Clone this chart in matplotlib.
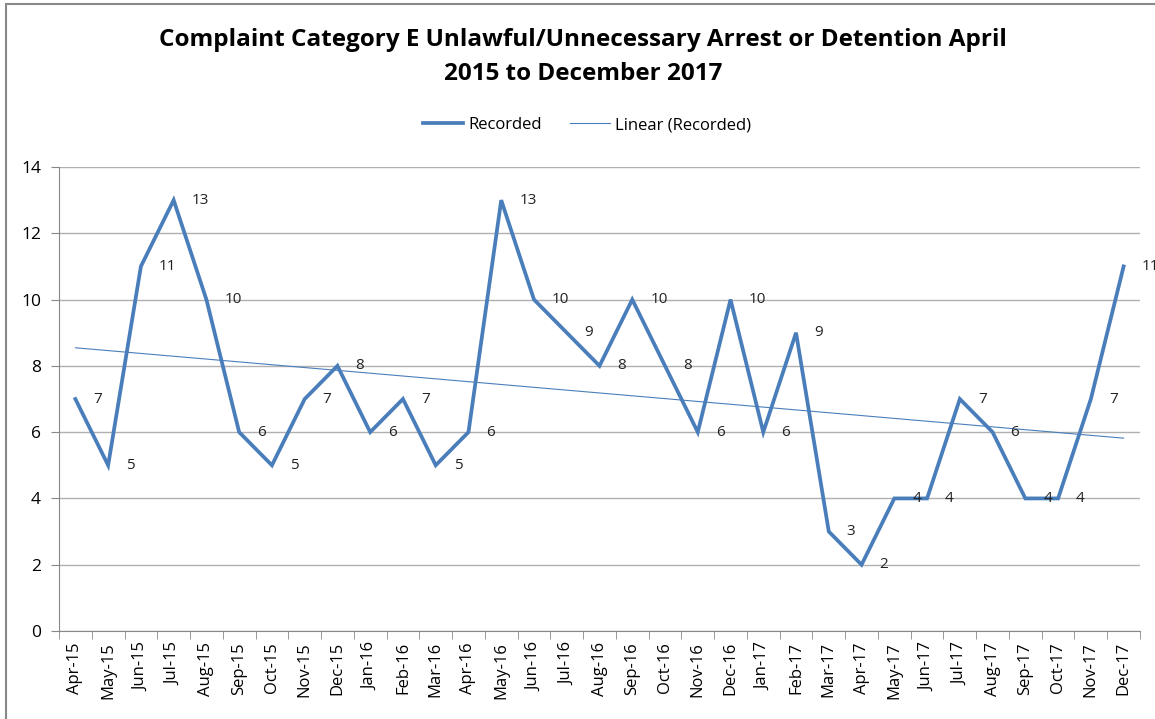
import matplotlib
matplotlib.use("Agg")
import matplotlib.pyplot as plt
import numpy as np
from matplotlib.patches import Rectangle

months = ["Apr-15","May-15","Jun-15","Jul-15","Aug-15","Sep-15","Oct-15","Nov-15","Dec-15",
          "Jan-16","Feb-16","Mar-16","Apr-16","May-16","Jun-16","Jul-16","Aug-16","Sep-16",
          "Oct-16","Nov-16","Dec-16","Jan-17","Feb-17","Mar-17","Apr-17","May-17","Jun-17",
          "Jul-17","Aug-17","Sep-17","Oct-17","Nov-17","Dec-17"]
recorded = [7,5,11,13,10,6,5,7,8,6,7,5,6,13,10,9,8,10,8,6,10,6,9,3,2,4,4,7,6,4,4,7,11]

plt.rcParams['font.family'] = ['Open Sans', 'DejaVu Sans']

fig = plt.figure(figsize=(11.55, 7.19), dpi=100)
ax = fig.add_axes([59/1155, 1-631/719, (1140-59)/1155, (631-167)/719])

x = np.arange(len(months))
line_color = "#4A7EBB"
ax.plot(x, recorded, color=line_color, lw=2.7, label="Recorded", solid_joinstyle='miter', zorder=3)
coef = np.polyfit(x, recorded, 1)
ax.plot(x, np.polyval(coef, x), color=line_color, lw=0.8, label="Linear (Recorded)", zorder=3)

for xi, v in zip(x, recorded):
    ax.annotate(str(v), (xi, v), xytext=(18, 0), textcoords='offset pixels',
                ha='left', va='center', fontsize=11, color='#222222')

ax.set_xlim(-0.5, len(months) - 0.5)
ax.set_ylim(0, 14)
ax.set_yticks(range(0, 15, 2))
ax.yaxis.grid(True, color='#B0B0B0', lw=1)
ax.set_axisbelow(True)
ax.set_xticks(x)
ax.set_xticklabels(months, rotation=90, fontsize=12)
ax.set_xticks(np.arange(-0.5, len(months), 1), minor=True)
ax.tick_params(axis='x', which='major', length=0, pad=8)
ax.tick_params(axis='x', which='minor', length=6, color='#888888')
ax.tick_params(axis='y', length=6, color='#888888', labelsize=12.5, pad=7)
for s in ['top', 'right']:
    ax.spines[s].set_visible(False)
for s in ['left', 'bottom']:
    ax.spines[s].set_color('#888888')

fig.text(583/1155, 1-57/719, "Complaint Category E Unlawful/Unnecessary Arrest or Detention April\n2015 to December 2017",
         ha='center', va='center', fontsize=17.5, fontweight='bold', linespacing=1.5)
fig.legend(loc='center', bbox_to_anchor=(587/1155, 1-125/719), ncol=2, frameon=False,
           fontsize=12, handlelength=2.4, columnspacing=1.7, handletextpad=0.3)

fig.patches.append(Rectangle((6/1155, -0.1), 1.2, 1.1 - 4/719, transform=fig.transFigure,
                             fill=False, edgecolor='#888888', lw=1.5))

fig.savefig("out.png", dpi=100)
